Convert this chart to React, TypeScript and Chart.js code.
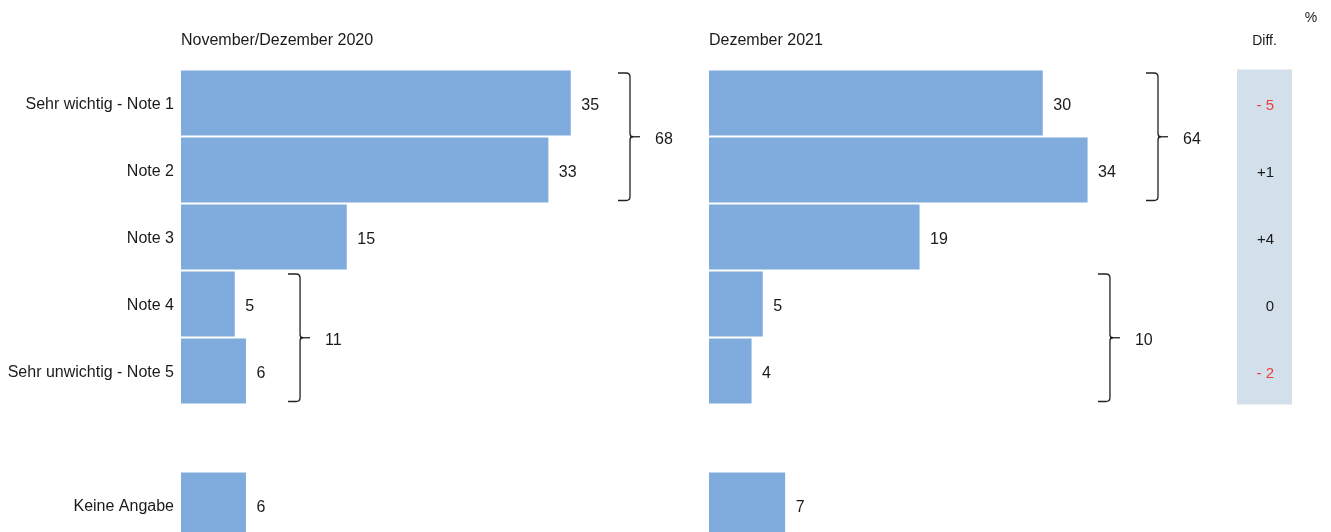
import React, { useEffect, useRef } from 'react';
import { Chart, registerables } from 'chart.js';
Chart.register(...registerables);

// ---- data ----
const categories = ['Sehr wichtig - Note 1', 'Note 2', 'Note 3', 'Note 4', 'Sehr unwichtig - Note 5', '', 'Keine Angabe'];
const values2020: (number | null)[] = [35, 33, 15, 5, 6, null, 6];
const values2021: (number | null)[] = [30, 34, 19, 5, 4, null, 7];
const diffs = [-5, 1, 4, 0, -2];
const titles = ['November/Dezember 2020', 'Dezember 2021'];
const brackets2020 = [
  { from: 0, to: 1, total: 68, at: 40.29 },
  { from: 3, to: 4, total: 11, at: 10.83 },
];
const brackets2021 = [
  { from: 0, to: 1, total: 64, at: 40.29 },
  { from: 3, to: 4, total: 10, at: 36.0 },
];

// ---- layout ----
const W = 1331;
const H = 560;
const X_MIN = 0.2;
const X_MAX = 40.2;
const PX_PER_UNIT = 11.2;
const AREA_W = PX_PER_UNIT * (X_MAX - X_MIN);
const TOP = 69.5;
const BAND = 67;
const BOTTOM = TOP + BAND * categories.length;
const FONT = '"Liberation Sans", Arial, sans-serif';
const TEXT = '#1a1a1a';
const BAR = '#7FACDC';
const DY = 2; // text vertical nudge

function fmtDiff(d: number) {
  if (d < 0) return '- ' + Math.abs(d);
  if (d > 0) return '+' + d;
  return '0';
}

function drawBracket(ctx: CanvasRenderingContext2D, x: number, y1: number, y2: number) {
  const hook = 12;
  const r = 4;
  const ym = (y1 + y2) / 2;
  ctx.save();
  ctx.strokeStyle = '#222';
  ctx.lineWidth = 1.3;
  ctx.beginPath();
  ctx.moveTo(x - hook, y1);
  ctx.lineTo(x - r, y1);
  ctx.quadraticCurveTo(x, y1, x, y1 + r);
  ctx.lineTo(x, ym - 3);
  ctx.quadraticCurveTo(x, ym, x + 3, ym);
  ctx.quadraticCurveTo(x, ym, x, ym + 3);
  ctx.lineTo(x, y2 - r);
  ctx.quadraticCurveTo(x, y2, x - r, y2);
  ctx.lineTo(x - hook, y2);
  ctx.stroke();
  ctx.beginPath();
  ctx.moveTo(x, ym);
  ctx.lineTo(x + 10, ym);
  ctx.stroke();
  ctx.restore();
}

function makePlugin(values: (number | null)[], brackets: typeof brackets2020, title: string, withLabels: boolean, withDiff: boolean) {
  return {
    id: 'annot',
    afterDatasetsDraw(chart: any) {
      const ctx: CanvasRenderingContext2D = chart.ctx;
      const xs = chart.scales.x;
      const ys = chart.scales.y;
      const band = ys.getPixelForValue(1) - ys.getPixelForValue(0);
      ctx.save();
      ctx.fillStyle = TEXT;
      ctx.textBaseline = 'middle';
      ctx.textAlign = 'left';
      ctx.font = `16px ${FONT}`;
      // title
      ctx.fillText(title, chart.chartArea.left, 39 + DY);
      // category labels
      if (withLabels) {
        ctx.textAlign = 'right';
        categories.forEach((c, i) => {
          if (!c) return;
          ctx.fillText(c, chart.chartArea.left - 7, ys.getPixelForValue(i) + DY);
        });
        ctx.textAlign = 'left';
      }
      // value labels
      const meta = chart.getDatasetMeta(0);
      meta.data.forEach((bar: any, i: number) => {
        const v = values[i];
        if (v == null) return;
        ctx.fillText(String(v), bar.x + 10.5, bar.y + 1 + DY);
      });
      // brackets
      brackets.forEach((b) => {
        const x = xs.getPixelForValue(b.at);
        const y1 = ys.getPixelForValue(b.from) - band / 2 + 3.5;
        const y2 = ys.getPixelForValue(b.to) + band / 2 - 3;
        drawBracket(ctx, x, y1, y2);
        ctx.fillStyle = TEXT;
        ctx.fillText(String(b.total), x + 25, (y1 + y2) / 2 + 1 + DY);
      });
      if (withDiff) {
        const top = ys.getPixelForValue(0) - band / 2;
        const bottom = ys.getPixelForValue(diffs.length - 1) + band / 2;
        ctx.fillStyle = '#D3DFEA';
        ctx.fillRect(1237, top, 55, bottom - top);
        ctx.font = `15px ${FONT}`;
        ctx.textAlign = 'right';
        diffs.forEach((d, i) => {
          ctx.fillStyle = d < 0 ? '#E8413F' : TEXT;
          ctx.fillText(fmtDiff(d), 1274, ys.getPixelForValue(i) + 1 + DY);
        });
        ctx.fillStyle = TEXT;
        ctx.font = `14px ${FONT}`;
        ctx.textAlign = 'center';
        ctx.fillText('Diff.', 1264.5, 40 + 1);
        ctx.fillText('%', 1311, 18);
      }
      ctx.restore();
    },
  };
}

function buildChart(canvas: HTMLCanvasElement, values: (number | null)[], brackets: typeof brackets2020, title: string, left: number, withLabels: boolean, withDiff: boolean) {
  return new Chart(canvas, {
    type: 'bar',
    data: {
      labels: categories,
      datasets: [
        {
          data: values as any,
          backgroundColor: BAR,
          borderWidth: 0,
          barPercentage: 0.97,
          categoryPercentage: 1,
        },
      ],
    },
    options: {
      indexAxis: 'y',
      responsive: false,
      animation: false,
      devicePixelRatio: 1,
      layout: {
        padding: {
          left: left,
          top: TOP,
          bottom: H - BOTTOM,
          right: W - left - AREA_W,
        },
      },
      plugins: {
        legend: { display: false },
        tooltip: { enabled: false },
        title: { display: false },
      },
      scales: {
        x: { display: false, min: X_MIN, max: X_MAX },
        y: { display: false },
      },
    },
    plugins: [makePlugin(values, brackets, title, withLabels, withDiff)],
  } as any);
}

export default function App() {
  const ref1 = useRef<HTMLCanvasElement>(null);
  const ref2 = useRef<HTMLCanvasElement>(null);
  useEffect(() => {
    const c1 = buildChart(ref1.current!, values2020, brackets2020, titles[0], 181, true, false);
    const c2 = buildChart(ref2.current!, values2021, brackets2021, titles[1], 709, false, true);
    return () => {
      c1.destroy();
      c2.destroy();
    };
  }, []);
  const cs: React.CSSProperties = { position: 'absolute', left: 0, top: 0, width: W, height: H };
  return (
    <div style={{ position: 'fixed', left: 0, top: 0, width: W, height: 532, overflow: 'hidden', background: '#fff' }}>
      <canvas ref={ref1} width={W} height={H} style={cs} />
      <canvas ref={ref2} width={W} height={H} style={cs} />
    </div>
  );
}
